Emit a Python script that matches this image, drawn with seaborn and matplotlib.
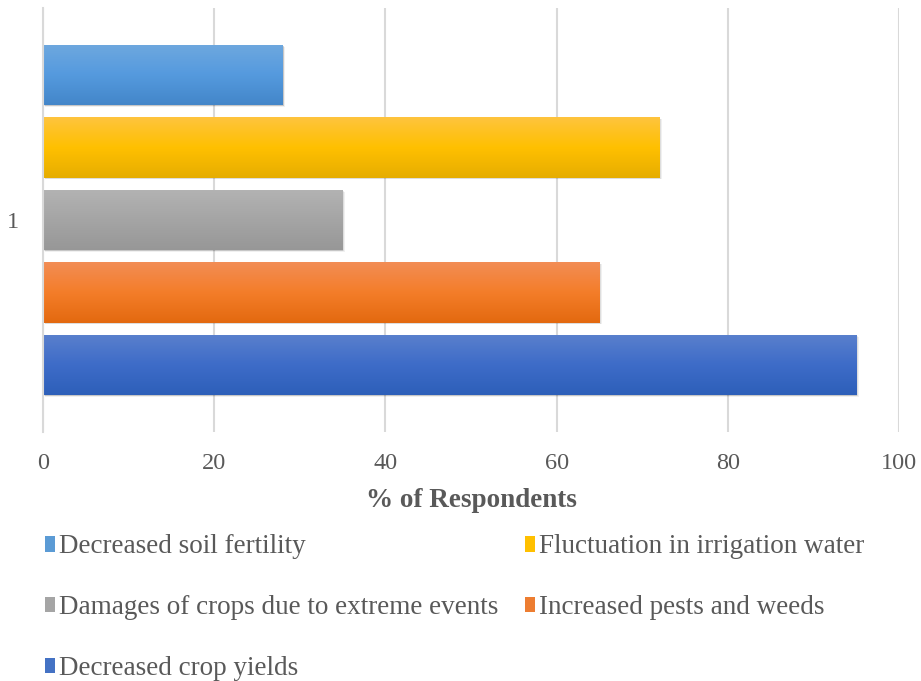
import numpy as np
import pandas as pd
import matplotlib
matplotlib.use("Agg")
import matplotlib.pyplot as plt
import seaborn as sns
from matplotlib.colors import LinearSegmentedColormap
from matplotlib.patches import Rectangle

categories = ["Decreased soil fertility", "Fluctuation in irrigation water",
              "Damages of crops due to extreme events", "Increased pests and weeds",
              "Decreased crop yields"]
values = [28, 72, 35, 65, 95]
group = ["1"] * 5
xticks = [0, 20, 40, 60, 80, 100]

base_colors = ["#5b9bd5", "#ffc000", "#a5a5a5", "#ed7d31", "#4472c4"]
grad_top = ["#6ea8df", "#fec43e", "#b3b3b3", "#f28d55", "#5a80cd"]
grad_mid = ["#559ade", "#ffc000", "#a5a5a5", "#f47d29", "#3e6cc8"]
grad_bot = ["#4386c9", "#e6ad00", "#979797", "#e3690f", "#2d5fb9"]

sns.set_theme(style="white")
plt.rcParams['font.family'] = ['Liberation Serif', 'DejaVu Serif']

df = pd.DataFrame({"group": group, "issue": categories, "value": values})

fig = plt.figure(figsize=(9.21, 6.81), dpi=100)
ax = fig.add_axes([43/921, 1 - 432/681, (899 - 43)/921, (432 - 8)/681])

sns.barplot(data=df, x="value", y="group", hue="issue", hue_order=categories,
            palette=base_colors, orient="h", width=0.8, gap=0.17, ax=ax,
            legend=True, saturation=1, edgecolor="none", linewidth=0)

ax.set_xlim(0, 100)
ax.set_ylim(0.468, -0.468)

# gradient fills and soft shadows
bars = [p for p in ax.patches if isinstance(p, Rectangle) and p.get_width() > 0]
for i, p in enumerate(bars):
    x0, y0 = p.get_x(), p.get_y()
    w, h = p.get_width(), p.get_height()
    for k, a in enumerate([0.10, 0.08, 0.06]):
        off = 0.4 + 0.35 * k
        sh = Rectangle((x0 + off * 0.25, y0 + h * 0.01 * (k + 1)), w, h,
                       facecolor="black", alpha=a, edgecolor="none", zorder=1.5)
        ax.add_patch(sh)
    cmap = LinearSegmentedColormap.from_list("g%d" % i, [grad_top[i], grad_mid[i], grad_bot[i]])
    grad = np.linspace(0, 1, 256).reshape(-1, 1)
    im = ax.imshow(grad, cmap=cmap, aspect="auto", extent=(x0, x0 + w, y0 + h, y0),
                   zorder=2.5, interpolation="bilinear")
    im.set_clip_path(p)
    p.set_zorder(2.4)
ax.set_xlim(0, 100)
ax.set_ylim(0.468, -0.468)
ax.set_aspect("auto")

ax.set_xticks(xticks)
ax.set_xticklabels([str(t) for t in xticks])
ax.grid(axis="x", color="#d9d9d9", linewidth=1.5, zorder=0)
ax.set_axisbelow(True)
for s in ["top", "right", "bottom"]:
    ax.spines[s].set_visible(False)
ax.spines["left"].set_color("#d9d9d9")
ax.spines["left"].set_linewidth(1.5)
ax.tick_params(axis="both", length=0, labelsize=17.5, labelcolor="#595959")
ax.tick_params(axis="x", pad=15)
ax.tick_params(axis="y", pad=17)
ax.set_ylabel("")
ax.set_xlabel("% of Respondents", fontsize=19.5, fontweight="bold", color="#595959", labelpad=10)

handles, labels = ax.get_legend_handles_labels()
order = [0, 2, 4, 1, 3]
for hnd, c in zip(handles, base_colors):
    hnd.set_facecolor(c)
ax.legend([handles[i] for i in order], [labels[i] for i in order], ncol=2,
          loc="upper left", bbox_to_anchor=(-0.0105, -0.216), frameon=False,
          fontsize=19.5, labelcolor="#595959", handlelength=0.37, handleheight=0.5,
          handletextpad=0.15, columnspacing=1.0, labelspacing=1.32,
          borderaxespad=0)

fig.savefig("out.png", dpi=100)
